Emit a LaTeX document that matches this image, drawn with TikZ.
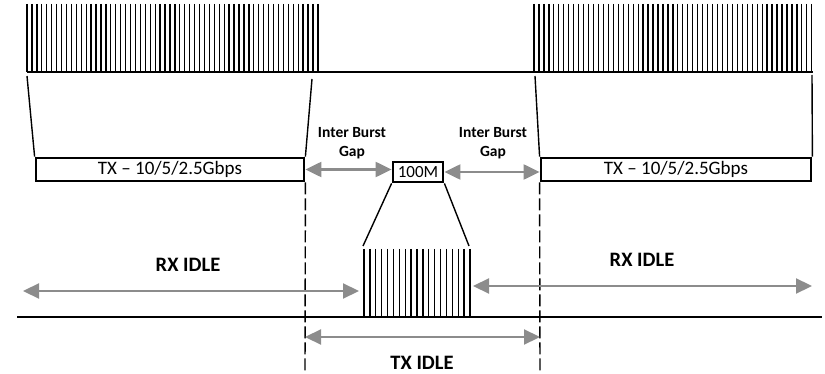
\documentclass[tikz,border=0pt]{standalone}
\usepackage{fontspec}
\setmainfont{Carlito}
\usetikzlibrary{arrows.meta}
\definecolor{arrgray}{HTML}{8C8C8C}
\tikzset{
  gaparrow/.style={draw=arrgray, line width=2.2pt,
    {Triangle[length=16pt,width=15pt]}-{Triangle[length=16pt,width=15pt]}},
  txbox/.style={draw, line width=2.8pt, minimum height=23pt, inner sep=0pt,
    font=\fontsize{19}{23}\selectfont},
  smallbox/.style={draw, line width=2.8pt, minimum width=50pt, minimum height=20pt, inner sep=0pt,
    font=\fontsize{17}{20}\selectfont},
  gaplabel/.style={font=\bfseries\fontsize{15.5}{19}\selectfont, align=center},
  idlelabel/.style={font=\bfseries\fontsize{20.5}{24}\selectfont},
  pulse/.style={line width=1.3pt},
  baseln/.style={line width=1.5pt},
  funnel/.style={line width=1.4pt},
  divider/.style={line width=1.4pt, dash pattern=on 12pt off 4pt},
}
\begin{document}
\begin{tikzpicture}[x=1pt,y=-1pt]
\useasboundingbox (0,0) rectangle (825,374);
% top bursts
\foreach \i in {0,...,59} \draw[pulse] ({27+\i*4.93},4) -- ({27+\i*4.93},72);
\foreach \i in {0,...,56} \draw[pulse] ({534+\i*4.96},4) -- ({534+\i*4.96},72);
\draw[baseln] (27,72) -- (813,72);
% boxes
\node[txbox, minimum width=268pt] (txL) at (170,169.5) {TX -- 10/5/2.5Gbps};
\node[txbox, minimum width=270pt] (txR) at (676,169.5) {TX -- 10/5/2.5Gbps};
\node[smallbox] (m) at (418,172) {100M};
% funnels
\coordinate (fL1) at (27,76);
\coordinate (fL2) at (312,79);
\coordinate (fR1) at (535,76);
\coordinate (fR2) at (812,75);
\draw[funnel] (fL1) -- (txL.north west);
\draw[funnel] (fL2) -- (txL.north east);
\draw[funnel] (fR1) -- (txR.north west);
\draw[funnel] (fR2) -- (txR.north east);
\coordinate (sb1) at (363,246);
\coordinate (sb2) at (469,246);
\draw[funnel] (m.south west) -- (sb1);
\draw[funnel] (m.south east) -- (sb2);
% short burst
\foreach \i in {0,...,18} \draw[pulse] ({364+\i*5.89},249) -- ({364+\i*5.89},317);
% bottom baseline
\coordinate (bb1) at (17,317);
\coordinate (bb2) at (822,317);
\draw[baseln] (bb1) -- (bb2);
% dividers
\coordinate (dL) at (305,374);
\coordinate (dR) at (540,374);
\draw[divider] (txL.south east) -- (dL);
\draw[divider] (txR.south west) -- (dR);
% gap arrows
\draw[gaparrow] (txL.east) -- (txL.east -| m.west);
\draw[gaparrow] (m.east) -- (m.east -| txR.west);
\node[gaplabel] (g1) at (352,143) {Inter Burst\\Gap};
\node[gaplabel] (g2) at (493,143) {Inter Burst\\Gap};
% idle arrows
\coordinate (ra1) at (23,291);
\coordinate (ra2) at (359,291);
\coordinate (rb1) at (473,286);
\coordinate (rb2) at (812,286);
\coordinate (ta1) at (305,337);
\coordinate (ta2) at (540,337);
\draw[gaparrow] (ra1) -- (ra2);
\draw[gaparrow] (rb1) -- (rb2);
\draw[gaparrow] (ta1) -- (ta2);
\node[idlelabel] (rx1) at (188,265) {RX IDLE};
\node[idlelabel] (rx2) at (642,260) {RX IDLE};
\node[idlelabel] (txi) at (422,363) {TX IDLE};
\end{tikzpicture}
\end{document}
